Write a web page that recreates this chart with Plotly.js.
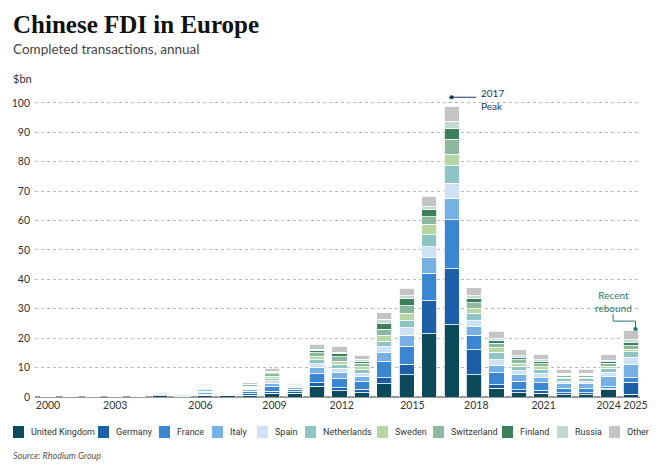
<!DOCTYPE html><html><head><meta charset="utf-8"><script src="https://cdn.plot.ly/plotly-3.0.1.min.js"></script>
<style>body{margin:0;background:#fff}</style></head><body><div id="c" style="width:660px;height:466px"></div><script>
const idx=[...Array(27).keys()];
const tickVals=[0,3,6.8,10.1,13.1,16.25,19.1,22.1,25,26.2];
const tickText=['2000','2003','2006','2009','2012','2015','2018','2021','2024','2025'];
const names=['United Kingdom','Germany','France','Italy','Spain','Netherlands','Sweden','Switzerland','Finland','Russia','Other'];
const colors=['#0b4a5a','#1a5fa8','#3a86d0','#77b1e3','#cde2f5','#8fc4c4','#b6d6a4','#8cb8a0','#3d7f5c','#c3d8cf','#c4c4c4'];
const uk=[0.1,0.2,0.2,0.2,0.1,0.5,0.3,0.4,0.4,0.6,1.2,1.2,3.6,2.2,1.5,4.5,7.5,21.5,24.6,7.5,3,1.5,1.3,0.8,0.7,2.5,1];
const de=[0,0,0,0,0,0.5,0.2,0.2,0.2,0.5,0.8,0.6,1.3,1,1.2,2,3.7,11.2,19,8.5,1.2,1,1,0.6,0.7,0.5,4];
const fr=[0,0,0,0,0,0.2,0.2,0.3,0.3,0.9,1.5,0.8,3,3,2.5,5.5,6.1,9.3,16.7,5,4,2.8,2.5,1.5,1.4,0.5,1.5];
const it=[0,0,0,0.2,0.2,0.1,0.3,0.5,0.3,0.6,1.2,0.5,2.2,2,1.8,3,3.7,5.3,7.2,3,2.5,2.2,2,1.7,1.8,3.5,4.5];
const es=[0,0,0,0,0.3,0.1,0.2,0.5,0.2,0.4,0.8,0.4,1.2,1.5,1,2,2.5,3.7,5.1,2,2,1.5,1.3,0.8,0.8,1.5,2.5];
const nl=[0,0,0,0.2,0.4,0.1,0.2,0.6,0.2,0.4,0.8,0.4,1.3,1.5,1.2,2,2.5,4.1,6,2.5,2.5,1.5,1.3,0.8,0.8,1.2,1.8];
const se=[0,0,0,0,0,0,0.1,0.5,0.1,0.3,0.8,0.3,1,1,1,2,2.5,3.6,4,1.5,1.5,1,0.9,0.6,0.6,0.8,1];
const ch=[0,0,0,0,0,0,0.1,0.4,0.1,0.4,0.8,0.3,1.4,1.5,1.2,2,2.5,2.5,5.1,2,1.5,1.2,1,0.6,0.6,1,1.2];
const fi=[0,0,0,0,0,0,0,0.2,0.1,0.2,0.6,0.2,0.8,1,0.8,2,2.5,2.6,3.6,1.5,1,0.8,0.8,0.4,0.4,0.6,1];
const ru=[0,0,0,0,0,0,0,0.2,0.1,0.1,0.3,0.1,0.5,0.5,0.6,1.5,1,0.9,2.5,1,0.7,0.6,0.5,0.3,0.3,0.4,1];
const ot=[0,0,0,0.2,0,0,0,0.5,0.2,0.4,0.9,0.4,1.7,2,1.4,2.2,2.5,3.6,4.8,2.7,2.5,2,1.9,1.4,1.4,1.9,3];
const series=[uk,de,fr,it,es,nl,se,ch,fi,ru,ot];
const legendPx=[13,98,159,212,257,305,377,433,502,557,609];
const data=series.map((v,i)=>({type:'bar',x:idx,y:v,name:names[i],marker:{color:colors[i],line:{color:'#fff',width:0.8}},width:0.68}));
const L=35,W=605,B=397,H=303;
const px=p=>(p-L)/W, py=p=>(B-p)/H;
const ann=[
{text:'<b>Chinese FDI in Europe</b>',xref:'paper',yref:'paper',x:px(11),y:py(24),xanchor:'left',yanchor:'middle',showarrow:false,font:{family:'Liberation Serif, DejaVu Serif, serif',size:25,color:'#111'}},
{text:'Completed transactions, annual',xref:'paper',yref:'paper',x:px(11),y:py(49),xanchor:'left',yanchor:'middle',showarrow:false,font:{size:13.5,color:'#444'}},
{text:'$bn',xref:'paper',yref:'paper',x:px(11),y:py(79),xanchor:'left',yanchor:'middle',showarrow:false,font:{size:11,color:'#333'}},
{text:'2017<br>Peak',x:19.2,y:101,xref:'x',yref:'y',xanchor:'left',yanchor:'middle',align:'left',showarrow:false,font:{size:10,color:'#1a3a5c'}},
{text:'Recent<br>rebound',x:25.2,y:32.5,xref:'x',yref:'y',xanchor:'center',yanchor:'middle',align:'center',showarrow:false,font:{size:10,color:'#1f7a6a'}},
{text:'<i>Source: Rhodium Group</i>',xref:'paper',yref:'paper',x:px(11),y:py(455),xanchor:'left',yanchor:'middle',showarrow:false,font:{size:9,color:'#555'}}
];
const shp=[
{type:'line',x0:18,x1:19.1,y0:101.9,y1:101.9,line:{color:'#1a3a5c',width:1}},
{type:'circle',x0:17.9,x1:18.1,y0:101.2,y1:102.6,fillcolor:'#1a3a5c',line:{width:0}},
{type:'path',path:'M 25.2 28.3 L 25.2 25.8 L 26.2 25.8 L 26.2 23.5',line:{color:'#1f7a6a',width:1}},
{type:'circle',x0:26.1,x1:26.3,y0:22.4,y1:23.8,fillcolor:'#1f7a6a',line:{width:0}}
];
names.forEach((n,i)=>{
  const x=legendPx[i];
  shp.push({type:'rect',xref:'paper',yref:'paper',x0:px(x),x1:px(x+11),y0:py(438),y1:py(426),fillcolor:colors[i],line:{width:0}});
  ann.push({text:n,xref:'paper',yref:'paper',x:px(x+16),y:py(432),xanchor:'left',yanchor:'middle',showarrow:false,font:{family:'Roboto, sans-serif',size:9,color:'#333'}});
});
const layout={width:660,height:466,barmode:'stack',bargap:0.3,paper_bgcolor:'#fff',plot_bgcolor:'#fff',
font:{family:'Lato, sans-serif',size:10.5,color:'#333'},
margin:{l:35,r:20,t:94,b:69,autoexpand:false},showlegend:false,
xaxis:{range:[-0.58,26.4],tickvals:tickVals,ticktext:tickText,showgrid:false,zeroline:false,showline:false,ticks:'',tickfont:{size:10.5}},
yaxis:{range:[0,103],tickvals:[0,10,20,30,40,50,60,70,80,90,100],showgrid:true,gridcolor:'#bbb',griddash:'dot',gridwidth:1,zeroline:true,zerolinecolor:'#999',zerolinewidth:1.5,ticks:'',tickfont:{size:10.5},ticklabelstandoff:4},
annotations:ann,shapes:shp};
Plotly.newPlot('c',data,layout,{displayModeBar:false,staticPlot:true});
</script></body></html>
